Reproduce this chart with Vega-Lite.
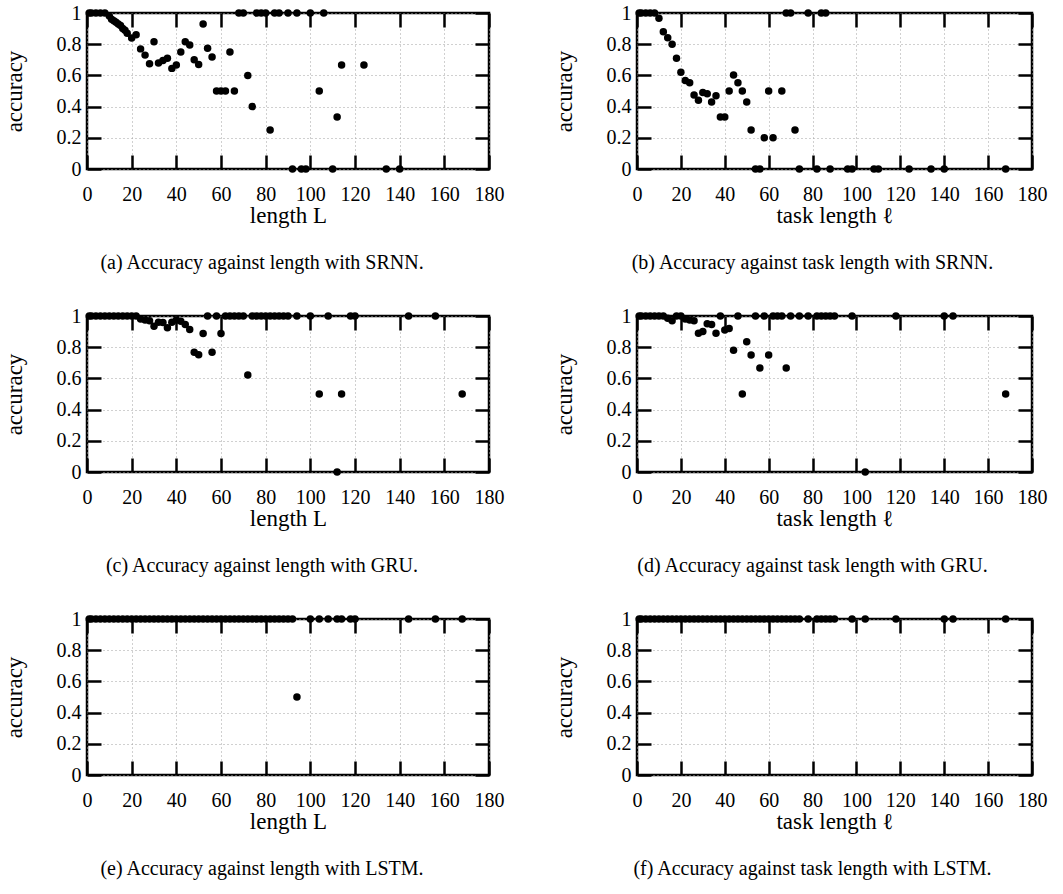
{
  "$schema": "https://vega.github.io/schema/vega-lite/v6.json",
  "background": "white",
  "padding": {"left": 1, "top": 1, "right": 5, "bottom": 5},
  "datasets": {
    "a": [{"length":1,"accuracy":1},{"length":2,"accuracy":1},{"length":4,"accuracy":1},{"length":6,"accuracy":1},{"length":8,"accuracy":1},{"length":10,"accuracy":0.98},{"length":11,"accuracy":0.96},{"length":12,"accuracy":0.95},{"length":13,"accuracy":0.94},{"length":14,"accuracy":0.93},{"length":15,"accuracy":0.92},{"length":16,"accuracy":0.9},{"length":17,"accuracy":0.89},{"length":18,"accuracy":0.87},{"length":20,"accuracy":0.84},{"length":22,"accuracy":0.86},{"length":24,"accuracy":0.77},{"length":26,"accuracy":0.73},{"length":28,"accuracy":0.675},{"length":30,"accuracy":0.816},{"length":32,"accuracy":0.68},{"length":34,"accuracy":0.695},{"length":36,"accuracy":0.71},{"length":38,"accuracy":0.645},{"length":40,"accuracy":0.667},{"length":42,"accuracy":0.75},{"length":44,"accuracy":0.816},{"length":46,"accuracy":0.795},{"length":48,"accuracy":0.7},{"length":50,"accuracy":0.67},{"length":52,"accuracy":0.93},{"length":54,"accuracy":0.774},{"length":56,"accuracy":0.718},{"length":58,"accuracy":0.5},{"length":60,"accuracy":0.5},{"length":62,"accuracy":0.5},{"length":64,"accuracy":0.75},{"length":66,"accuracy":0.5},{"length":68,"accuracy":1},{"length":70,"accuracy":1},{"length":72,"accuracy":0.6},{"length":74,"accuracy":0.4},{"length":76,"accuracy":1},{"length":78,"accuracy":1},{"length":80,"accuracy":1},{"length":82,"accuracy":0.25},{"length":84,"accuracy":1},{"length":86,"accuracy":1},{"length":90,"accuracy":1},{"length":92,"accuracy":0},{"length":94,"accuracy":1},{"length":96,"accuracy":0},{"length":98,"accuracy":0},{"length":100,"accuracy":1},{"length":104,"accuracy":0.5},{"length":106,"accuracy":1},{"length":110,"accuracy":0},{"length":112,"accuracy":0.333},{"length":114,"accuracy":0.667},{"length":124,"accuracy":0.667},{"length":134,"accuracy":0},{"length":140,"accuracy":0}],
    "b": [{"length":1,"accuracy":1},{"length":2,"accuracy":1},{"length":4,"accuracy":1},{"length":6,"accuracy":1},{"length":8,"accuracy":1},{"length":10,"accuracy":0.966},{"length":12,"accuracy":0.88},{"length":14,"accuracy":0.842},{"length":16,"accuracy":0.8},{"length":18,"accuracy":0.71},{"length":20,"accuracy":0.62},{"length":22,"accuracy":0.568},{"length":24,"accuracy":0.553},{"length":26,"accuracy":0.475},{"length":28,"accuracy":0.44},{"length":30,"accuracy":0.49},{"length":32,"accuracy":0.483},{"length":34,"accuracy":0.43},{"length":36,"accuracy":0.47},{"length":38,"accuracy":0.333},{"length":40,"accuracy":0.333},{"length":42,"accuracy":0.5},{"length":44,"accuracy":0.603},{"length":46,"accuracy":0.553},{"length":48,"accuracy":0.5},{"length":50,"accuracy":0.43},{"length":52,"accuracy":0.25},{"length":54,"accuracy":0},{"length":56,"accuracy":0},{"length":58,"accuracy":0.2},{"length":60,"accuracy":0.5},{"length":62,"accuracy":0.2},{"length":66,"accuracy":0.5},{"length":68,"accuracy":1},{"length":70,"accuracy":1},{"length":72,"accuracy":0.25},{"length":74,"accuracy":0},{"length":78,"accuracy":1},{"length":82,"accuracy":0},{"length":84,"accuracy":1},{"length":86,"accuracy":1},{"length":88,"accuracy":0},{"length":96,"accuracy":0},{"length":98,"accuracy":0},{"length":108,"accuracy":0},{"length":110,"accuracy":0},{"length":124,"accuracy":0},{"length":134,"accuracy":0},{"length":140,"accuracy":0},{"length":168,"accuracy":0}],
    "c": [{"length":1,"accuracy":1},{"length":2,"accuracy":1},{"length":4,"accuracy":1},{"length":6,"accuracy":1},{"length":8,"accuracy":1},{"length":10,"accuracy":1},{"length":12,"accuracy":1},{"length":14,"accuracy":1},{"length":16,"accuracy":1},{"length":18,"accuracy":1},{"length":20,"accuracy":1},{"length":22,"accuracy":1},{"length":24,"accuracy":0.98},{"length":26,"accuracy":0.975},{"length":28,"accuracy":0.97},{"length":30,"accuracy":0.935},{"length":32,"accuracy":0.96},{"length":34,"accuracy":0.958},{"length":36,"accuracy":0.924},{"length":38,"accuracy":0.96},{"length":40,"accuracy":0.975},{"length":42,"accuracy":0.966},{"length":44,"accuracy":0.945},{"length":46,"accuracy":0.913},{"length":48,"accuracy":0.768},{"length":50,"accuracy":0.751},{"length":52,"accuracy":0.888},{"length":54,"accuracy":1},{"length":56,"accuracy":0.768},{"length":58,"accuracy":1},{"length":60,"accuracy":0.888},{"length":62,"accuracy":1},{"length":64,"accuracy":1},{"length":66,"accuracy":1},{"length":68,"accuracy":1},{"length":70,"accuracy":1},{"length":72,"accuracy":0.622},{"length":74,"accuracy":1},{"length":76,"accuracy":1},{"length":78,"accuracy":1},{"length":80,"accuracy":1},{"length":82,"accuracy":1},{"length":84,"accuracy":1},{"length":86,"accuracy":1},{"length":88,"accuracy":1},{"length":90,"accuracy":1},{"length":94,"accuracy":1},{"length":100,"accuracy":1},{"length":104,"accuracy":0.5},{"length":108,"accuracy":1},{"length":112,"accuracy":0},{"length":114,"accuracy":0.5},{"length":118,"accuracy":1},{"length":120,"accuracy":1},{"length":144,"accuracy":1},{"length":156,"accuracy":1},{"length":168,"accuracy":0.5}],
    "d": [{"length":1,"accuracy":1},{"length":2,"accuracy":1},{"length":4,"accuracy":1},{"length":6,"accuracy":1},{"length":8,"accuracy":1},{"length":10,"accuracy":1},{"length":12,"accuracy":1},{"length":14,"accuracy":0.985},{"length":16,"accuracy":0.97},{"length":18,"accuracy":1},{"length":20,"accuracy":1},{"length":22,"accuracy":0.98},{"length":24,"accuracy":0.975},{"length":26,"accuracy":0.97},{"length":28,"accuracy":0.89},{"length":30,"accuracy":0.9},{"length":32,"accuracy":0.95},{"length":34,"accuracy":0.945},{"length":36,"accuracy":0.89},{"length":38,"accuracy":1},{"length":40,"accuracy":0.91},{"length":42,"accuracy":0.92},{"length":44,"accuracy":0.78},{"length":46,"accuracy":1},{"length":48,"accuracy":0.5},{"length":50,"accuracy":0.835},{"length":52,"accuracy":0.75},{"length":54,"accuracy":1},{"length":56,"accuracy":0.667},{"length":58,"accuracy":1},{"length":60,"accuracy":0.75},{"length":62,"accuracy":1},{"length":64,"accuracy":1},{"length":66,"accuracy":1},{"length":68,"accuracy":0.667},{"length":70,"accuracy":1},{"length":74,"accuracy":1},{"length":78,"accuracy":1},{"length":82,"accuracy":1},{"length":84,"accuracy":1},{"length":86,"accuracy":1},{"length":88,"accuracy":1},{"length":90,"accuracy":1},{"length":98,"accuracy":1},{"length":104,"accuracy":0},{"length":118,"accuracy":1},{"length":140,"accuracy":1},{"length":144,"accuracy":1},{"length":168,"accuracy":0.5}],
    "e": [{"length":1,"accuracy":1},{"length":2,"accuracy":1},{"length":4,"accuracy":1},{"length":6,"accuracy":1},{"length":8,"accuracy":1},{"length":10,"accuracy":1},{"length":12,"accuracy":1},{"length":14,"accuracy":1},{"length":16,"accuracy":1},{"length":18,"accuracy":1},{"length":20,"accuracy":1},{"length":22,"accuracy":1},{"length":24,"accuracy":1},{"length":26,"accuracy":1},{"length":28,"accuracy":1},{"length":30,"accuracy":1},{"length":32,"accuracy":1},{"length":34,"accuracy":1},{"length":36,"accuracy":1},{"length":38,"accuracy":1},{"length":40,"accuracy":1},{"length":42,"accuracy":1},{"length":44,"accuracy":1},{"length":46,"accuracy":1},{"length":48,"accuracy":1},{"length":50,"accuracy":1},{"length":52,"accuracy":1},{"length":54,"accuracy":1},{"length":56,"accuracy":1},{"length":58,"accuracy":1},{"length":60,"accuracy":1},{"length":62,"accuracy":1},{"length":64,"accuracy":1},{"length":66,"accuracy":1},{"length":68,"accuracy":1},{"length":70,"accuracy":1},{"length":72,"accuracy":1},{"length":74,"accuracy":1},{"length":76,"accuracy":1},{"length":78,"accuracy":1},{"length":80,"accuracy":1},{"length":82,"accuracy":1},{"length":84,"accuracy":1},{"length":86,"accuracy":1},{"length":88,"accuracy":1},{"length":90,"accuracy":1},{"length":92,"accuracy":1},{"length":94,"accuracy":0.5},{"length":100,"accuracy":1},{"length":104,"accuracy":1},{"length":108,"accuracy":1},{"length":112,"accuracy":1},{"length":114,"accuracy":1},{"length":118,"accuracy":1},{"length":120,"accuracy":1},{"length":144,"accuracy":1},{"length":156,"accuracy":1},{"length":168,"accuracy":1}],
    "f": [{"length":1,"accuracy":1},{"length":2,"accuracy":1},{"length":4,"accuracy":1},{"length":6,"accuracy":1},{"length":8,"accuracy":1},{"length":10,"accuracy":1},{"length":12,"accuracy":1},{"length":14,"accuracy":1},{"length":16,"accuracy":1},{"length":18,"accuracy":1},{"length":20,"accuracy":1},{"length":22,"accuracy":1},{"length":24,"accuracy":1},{"length":26,"accuracy":1},{"length":28,"accuracy":1},{"length":30,"accuracy":1},{"length":32,"accuracy":1},{"length":34,"accuracy":1},{"length":36,"accuracy":1},{"length":38,"accuracy":1},{"length":40,"accuracy":1},{"length":42,"accuracy":1},{"length":44,"accuracy":1},{"length":46,"accuracy":1},{"length":48,"accuracy":1},{"length":50,"accuracy":1},{"length":52,"accuracy":1},{"length":54,"accuracy":1},{"length":56,"accuracy":1},{"length":58,"accuracy":1},{"length":60,"accuracy":1},{"length":62,"accuracy":1},{"length":64,"accuracy":1},{"length":66,"accuracy":1},{"length":68,"accuracy":1},{"length":70,"accuracy":1},{"length":72,"accuracy":1},{"length":74,"accuracy":1},{"length":78,"accuracy":1},{"length":82,"accuracy":1},{"length":84,"accuracy":1},{"length":86,"accuracy":1},{"length":88,"accuracy":1},{"length":90,"accuracy":1},{"length":98,"accuracy":1},{"length":104,"accuracy":1},{"length":118,"accuracy":1},{"length":140,"accuracy":1},{"length":144,"accuracy":1},{"length":168,"accuracy":1}]
  },
  "vconcat": [
    {"hconcat": [
      {"width": 402, "height": 156, "data": {"name": "a"},
       "title": {"text": "(a) Accuracy against length with SRNN.", "orient": "bottom", "offset": 26, "frame": "group", "dx": -26},
       "layer": [
        {"mark": {"type": "point", "filled": true, "size": 56, "color": "black", "opacity": 1},
         "encoding": {
          "x": {"field": "length", "type": "quantitative", "scale": {"domain": [0, 180], "nice": false}, "axis": {"orient": "bottom", "title": "length L", "values": [0,20,40,60,80,100,120,140,160,180], "offset": -14, "labelPadding": 15, "titlePadding": 0}},
          "y": {"field": "accuracy", "type": "quantitative", "scale": {"domain": [0, 1], "nice": false}, "axis": {"orient": "left", "title": "accuracy", "values": [0,0.2,0.4,0.6,0.8,1], "format": "~g", "offset": -14, "labelPadding": 6, "titlePadding": 30}}}},
        {"mark": {"type": "point", "opacity": 0},
         "encoding": {
          "x": {"field": "length", "type": "quantitative", "scale": {"domain": [0, 180], "nice": false}, "axis": {"orient": "top", "title": null, "labels": false, "grid": false, "offset": -14, "values": [0,20,40,60,80,100,120,140,160,180]}},
          "y": {"field": "accuracy", "type": "quantitative", "scale": {"domain": [0, 1], "nice": false}, "axis": {"orient": "right", "title": null, "labels": false, "grid": false, "offset": -14, "values": [0,0.2,0.4,0.6,0.8,1]}}}}
       ],
       "resolve": {"axis": {"x": "independent", "y": "independent"}}},
      {"width": 395, "height": 156, "data": {"name": "b"},
       "title": {"text": "(b) Accuracy against task length with SRNN.", "orient": "bottom", "offset": 26, "frame": "group", "dx": -22},
       "layer": [
        {"mark": {"type": "point", "filled": true, "size": 56, "color": "black", "opacity": 1},
         "encoding": {
          "x": {"field": "length", "type": "quantitative", "scale": {"domain": [0, 180], "nice": false}, "axis": {"orient": "bottom", "title": "task length ℓ", "values": [0,20,40,60,80,100,120,140,160,180], "offset": -14, "labelPadding": 15, "titlePadding": 0}},
          "y": {"field": "accuracy", "type": "quantitative", "scale": {"domain": [0, 1], "nice": false}, "axis": {"orient": "left", "title": "accuracy", "values": [0,0.2,0.4,0.6,0.8,1], "format": "~g", "offset": -14, "labelPadding": 6, "titlePadding": 30}}}},
        {"mark": {"type": "point", "opacity": 0},
         "encoding": {
          "x": {"field": "length", "type": "quantitative", "scale": {"domain": [0, 180], "nice": false}, "axis": {"orient": "top", "title": null, "labels": false, "grid": false, "offset": -14, "values": [0,20,40,60,80,100,120,140,160,180]}},
          "y": {"field": "accuracy", "type": "quantitative", "scale": {"domain": [0, 1], "nice": false}, "axis": {"orient": "right", "title": null, "labels": false, "grid": false, "offset": -14, "values": [0,0.2,0.4,0.6,0.8,1]}}}}
       ],
       "resolve": {"axis": {"x": "independent", "y": "independent"}}}
    ]},
    {"hconcat": [
      {"width": 402, "height": 156, "data": {"name": "c"},
       "title": {"text": "(c) Accuracy against length with GRU.", "orient": "bottom", "offset": 26, "frame": "group", "dx": -26},
       "layer": [
        {"mark": {"type": "point", "filled": true, "size": 56, "color": "black", "opacity": 1},
         "encoding": {
          "x": {"field": "length", "type": "quantitative", "scale": {"domain": [0, 180], "nice": false}, "axis": {"orient": "bottom", "title": "length L", "values": [0,20,40,60,80,100,120,140,160,180], "offset": -14, "labelPadding": 15, "titlePadding": 0}},
          "y": {"field": "accuracy", "type": "quantitative", "scale": {"domain": [0, 1], "nice": false}, "axis": {"orient": "left", "title": "accuracy", "values": [0,0.2,0.4,0.6,0.8,1], "format": "~g", "offset": -14, "labelPadding": 6, "titlePadding": 30}}}},
        {"mark": {"type": "point", "opacity": 0},
         "encoding": {
          "x": {"field": "length", "type": "quantitative", "scale": {"domain": [0, 180], "nice": false}, "axis": {"orient": "top", "title": null, "labels": false, "grid": false, "offset": -14, "values": [0,20,40,60,80,100,120,140,160,180]}},
          "y": {"field": "accuracy", "type": "quantitative", "scale": {"domain": [0, 1], "nice": false}, "axis": {"orient": "right", "title": null, "labels": false, "grid": false, "offset": -14, "values": [0,0.2,0.4,0.6,0.8,1]}}}}
       ],
       "resolve": {"axis": {"x": "independent", "y": "independent"}}},
      {"width": 395, "height": 156, "data": {"name": "d"},
       "title": {"text": "(d) Accuracy against task length with GRU.", "orient": "bottom", "offset": 26, "frame": "group", "dx": -22},
       "layer": [
        {"mark": {"type": "point", "filled": true, "size": 56, "color": "black", "opacity": 1},
         "encoding": {
          "x": {"field": "length", "type": "quantitative", "scale": {"domain": [0, 180], "nice": false}, "axis": {"orient": "bottom", "title": "task length ℓ", "values": [0,20,40,60,80,100,120,140,160,180], "offset": -14, "labelPadding": 15, "titlePadding": 0}},
          "y": {"field": "accuracy", "type": "quantitative", "scale": {"domain": [0, 1], "nice": false}, "axis": {"orient": "left", "title": "accuracy", "values": [0,0.2,0.4,0.6,0.8,1], "format": "~g", "offset": -14, "labelPadding": 6, "titlePadding": 30}}}},
        {"mark": {"type": "point", "opacity": 0},
         "encoding": {
          "x": {"field": "length", "type": "quantitative", "scale": {"domain": [0, 180], "nice": false}, "axis": {"orient": "top", "title": null, "labels": false, "grid": false, "offset": -14, "values": [0,20,40,60,80,100,120,140,160,180]}},
          "y": {"field": "accuracy", "type": "quantitative", "scale": {"domain": [0, 1], "nice": false}, "axis": {"orient": "right", "title": null, "labels": false, "grid": false, "offset": -14, "values": [0,0.2,0.4,0.6,0.8,1]}}}}
       ],
       "resolve": {"axis": {"x": "independent", "y": "independent"}}}
    ]},
    {"hconcat": [
      {"width": 402, "height": 156, "data": {"name": "e"},
       "title": {"text": "(e) Accuracy against length with LSTM.", "orient": "bottom", "offset": 26, "frame": "group", "dx": -26},
       "layer": [
        {"mark": {"type": "point", "filled": true, "size": 56, "color": "black", "opacity": 1},
         "encoding": {
          "x": {"field": "length", "type": "quantitative", "scale": {"domain": [0, 180], "nice": false}, "axis": {"orient": "bottom", "title": "length L", "values": [0,20,40,60,80,100,120,140,160,180], "offset": -14, "labelPadding": 15, "titlePadding": 0}},
          "y": {"field": "accuracy", "type": "quantitative", "scale": {"domain": [0, 1], "nice": false}, "axis": {"orient": "left", "title": "accuracy", "values": [0,0.2,0.4,0.6,0.8,1], "format": "~g", "offset": -14, "labelPadding": 6, "titlePadding": 30}}}},
        {"mark": {"type": "point", "opacity": 0},
         "encoding": {
          "x": {"field": "length", "type": "quantitative", "scale": {"domain": [0, 180], "nice": false}, "axis": {"orient": "top", "title": null, "labels": false, "grid": false, "offset": -14, "values": [0,20,40,60,80,100,120,140,160,180]}},
          "y": {"field": "accuracy", "type": "quantitative", "scale": {"domain": [0, 1], "nice": false}, "axis": {"orient": "right", "title": null, "labels": false, "grid": false, "offset": -14, "values": [0,0.2,0.4,0.6,0.8,1]}}}}
       ],
       "resolve": {"axis": {"x": "independent", "y": "independent"}}},
      {"width": 395, "height": 156, "data": {"name": "f"},
       "title": {"text": "(f) Accuracy against task length with LSTM.", "orient": "bottom", "offset": 26, "frame": "group", "dx": -22},
       "layer": [
        {"mark": {"type": "point", "filled": true, "size": 56, "color": "black", "opacity": 1},
         "encoding": {
          "x": {"field": "length", "type": "quantitative", "scale": {"domain": [0, 180], "nice": false}, "axis": {"orient": "bottom", "title": "task length ℓ", "values": [0,20,40,60,80,100,120,140,160,180], "offset": -14, "labelPadding": 15, "titlePadding": 0}},
          "y": {"field": "accuracy", "type": "quantitative", "scale": {"domain": [0, 1], "nice": false}, "axis": {"orient": "left", "title": "accuracy", "values": [0,0.2,0.4,0.6,0.8,1], "format": "~g", "offset": -14, "labelPadding": 6, "titlePadding": 30}}}},
        {"mark": {"type": "point", "opacity": 0},
         "encoding": {
          "x": {"field": "length", "type": "quantitative", "scale": {"domain": [0, 180], "nice": false}, "axis": {"orient": "top", "title": null, "labels": false, "grid": false, "offset": -14, "values": [0,20,40,60,80,100,120,140,160,180]}},
          "y": {"field": "accuracy", "type": "quantitative", "scale": {"domain": [0, 1], "nice": false}, "axis": {"orient": "right", "title": null, "labels": false, "grid": false, "offset": -14, "values": [0,0.2,0.4,0.6,0.8,1]}}}}
       ],
       "resolve": {"axis": {"x": "independent", "y": "independent"}}}
    ]}
  ],
  "spacing": 29,
  "config": {
    "concat": {"spacing": 45},
    "view": {"stroke": "black", "strokeWidth": 2.5, "fill": "white"},
    "font": "Liberation Serif",
    "title": {"font": "Liberation Serif", "fontSize": 20, "fontWeight": "normal", "color": "black", "anchor": "middle"},
    "axis": {
      "labelFont": "Liberation Serif", "labelFontSize": 20, "labelColor": "black",
      "titleFont": "Liberation Serif", "titleFontSize": 23, "titleFontWeight": "normal", "titleColor": "black",
      "domain": false, "ticks": true, "tickSize": 14, "tickWidth": 2.5, "tickColor": "black", "tickOpacity": 1,
      "grid": true, "gridColor": "#a0a0a0", "gridDash": [1, 3], "gridWidth": 1,
      "labelFlush": false, "labelOverlap": false
    }
  }
}
